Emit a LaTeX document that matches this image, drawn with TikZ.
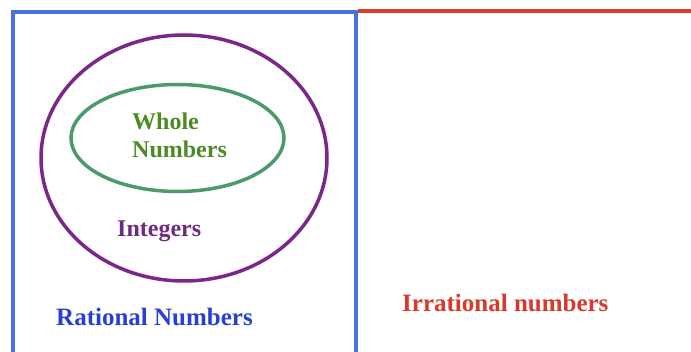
\documentclass[tikz,border=0pt]{standalone}
\usepackage{fontspec}
\setmainfont{Liberation Serif}
\usepackage{xcolor}
\usepackage{tikz}
\usetikzlibrary{shapes.geometric, positioning}
\definecolor{ratblue}{RGB}{74,112,232}
\definecolor{ratblue text}{RGB}{40,64,210}
\definecolor{irrred}{RGB}{222,58,46}
\definecolor{irrred text}{RGB}{214,58,44}
\definecolor{intpurple}{RGB}{124,38,140}
\definecolor{intpurple text}{RGB}{108,44,128}
\definecolor{wholegreen}{RGB}{76,154,108}
\definecolor{wholegreen text}{RGB}{76,138,34}
\tikzset{
  setring/.style={ellipse, draw, inner sep=0pt, line width=3.5pt},
  setlabel/.style={anchor=base west, inner sep=0pt, align=left,
    font=\fontsize{24}{28}\selectfont\bfseries},
  biglabel/.style={setlabel, font=\fontsize{25}{28}\selectfont\bfseries}
}

\begin{document}
\begin{tikzpicture}[x=1pt, y=-1pt]
  \useasboundingbox (0,0) rectangle (691,352);

  % Rational box (open at the bottom) and irrational top edge
  \coordinate (boxbl) at (13,354);
  \coordinate (boxtl) at (13,12);
  \coordinate (boxtr) at (356,12);
  \coordinate (boxbr) at (356,354);
  \coordinate (irrend) at (693,11);
  \draw[ratblue, line width=4pt] (boxbl) -- (boxtl) -- (boxtr) -- (boxbr);
  \draw[irrred, line width=4pt] (boxtr |- irrend) ++(2,0) -- (irrend);

  % Integers and whole numbers
  \node[setring, draw=intpurple, minimum width=286pt, minimum height=246pt]
    (integers) at (184,158) {};
  \node[setring, draw=wholegreen, minimum width=213pt, minimum height=107pt]
    (whole) at (177.5,138) {};

  \node[setlabel, text=wholegreen text] (wholelbl) at (132,158) {Whole\\Numbers};
  \node[setlabel, text=intpurple text] (intlbl) at (117,237) {Integers};
  \node[biglabel, text=ratblue text] (ratlbl) at (56,326) {Rational Numbers};
  \node[biglabel, text=irrred text] (irrlbl) at (402,312) {Irrational numbers};
\end{tikzpicture}
\end{document}
